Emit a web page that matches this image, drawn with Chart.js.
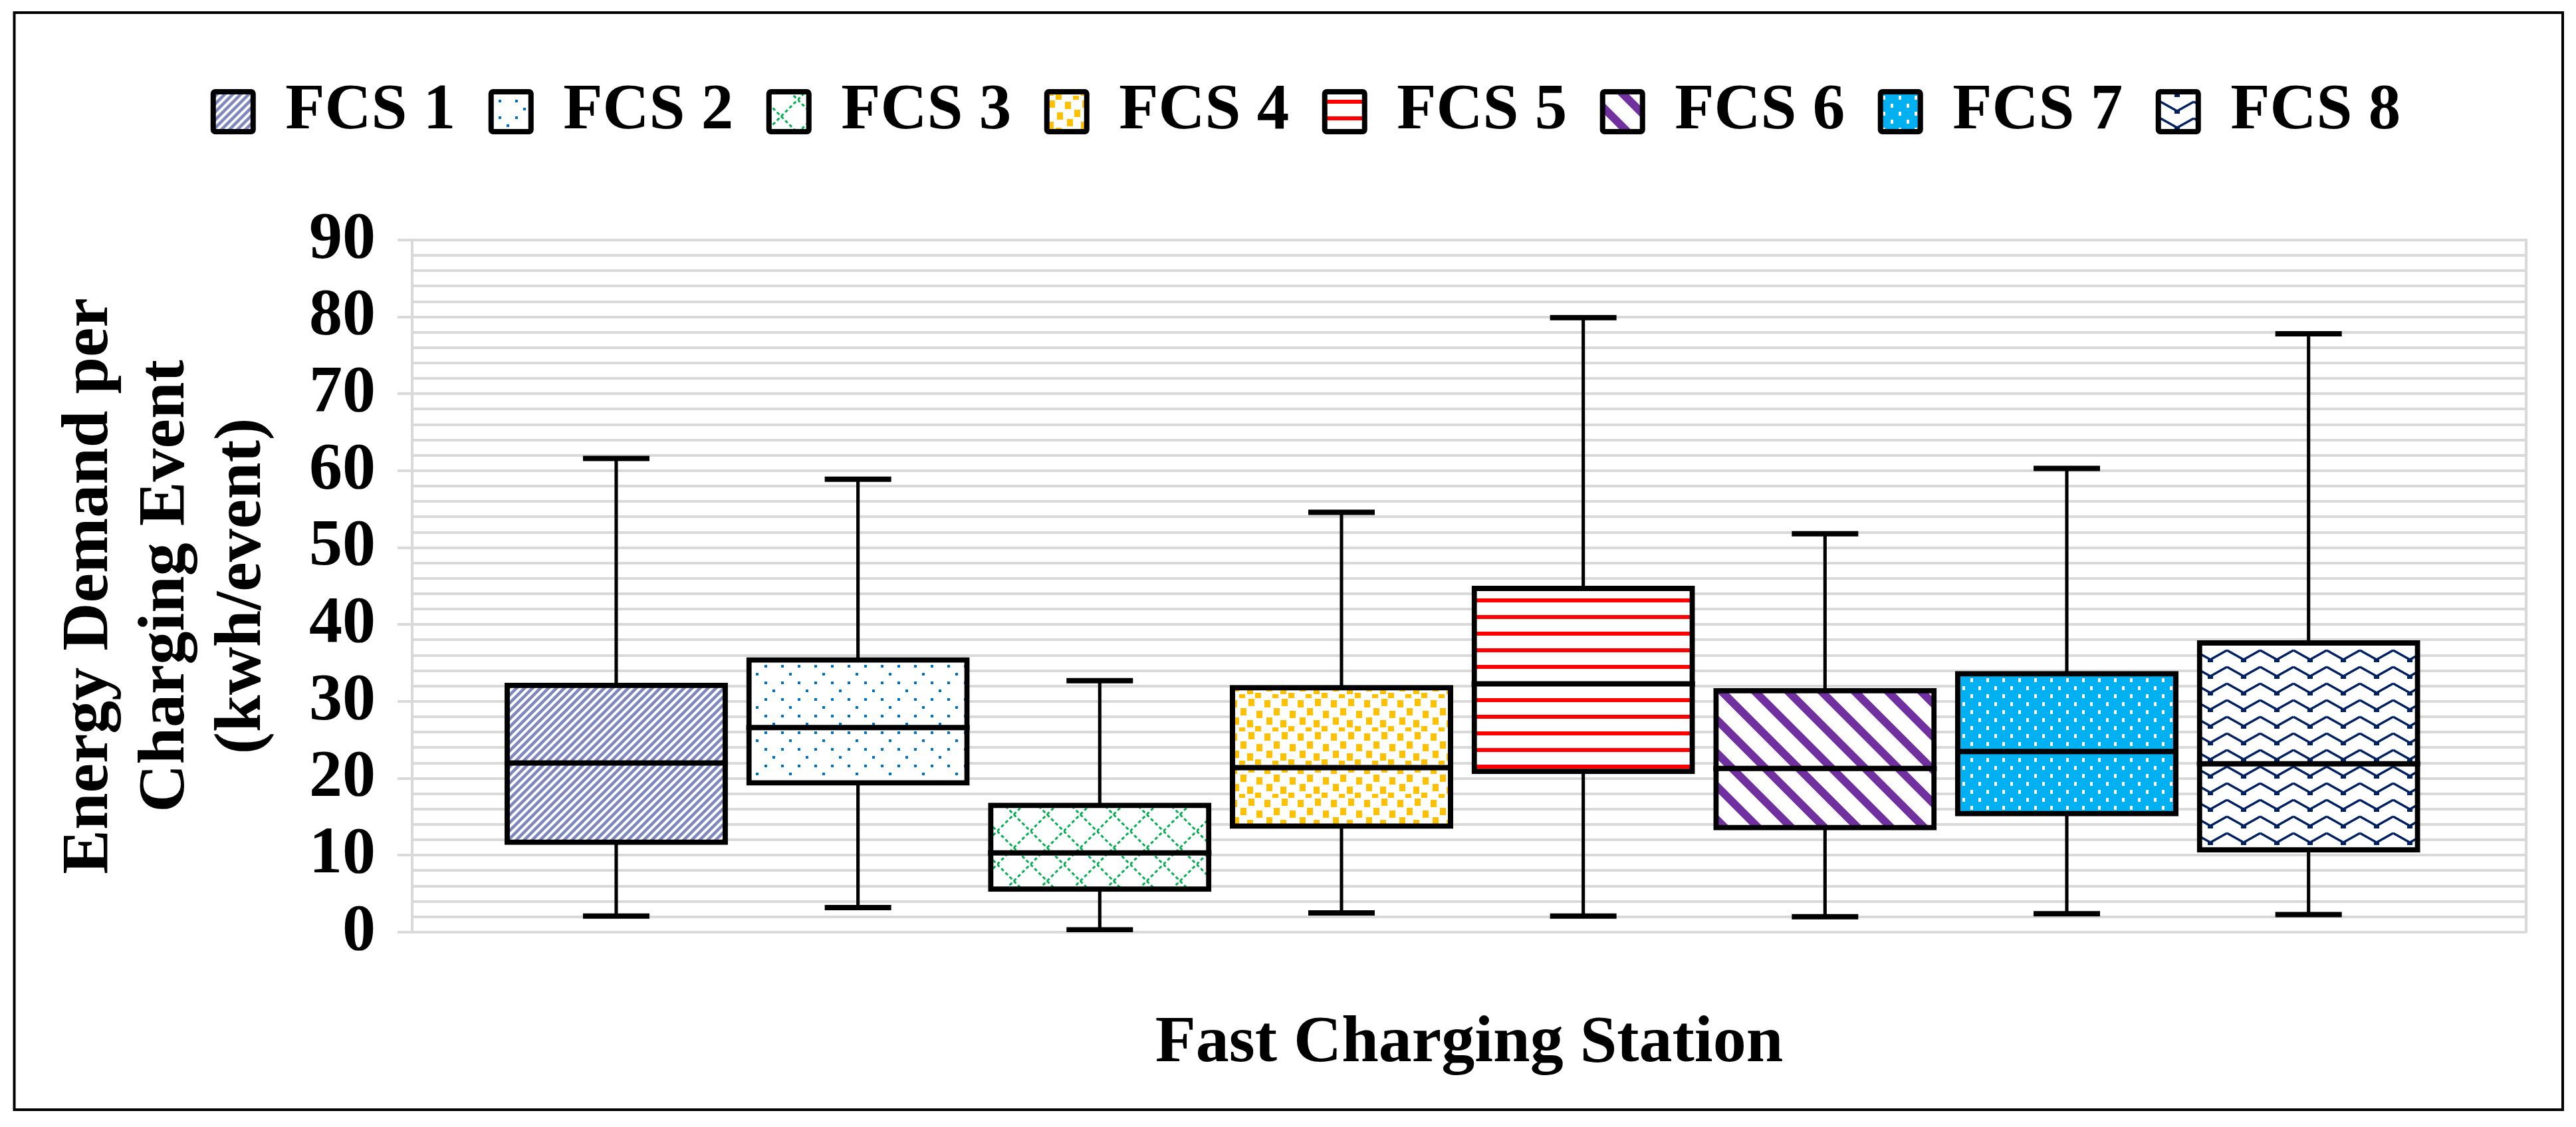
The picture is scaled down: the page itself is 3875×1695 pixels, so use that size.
<!DOCTYPE html>
<html lang="en">
<head>
<meta charset="UTF-8">
<title>Energy Demand per Charging Event</title>
<script src="https://cdn.jsdelivr.net/npm/chart.js@4.4.1/dist/chart.umd.min.js"></script>
<style>
  html, body { margin: 0; padding: 0; background: #fff; }
  canvas { display: block; }
</style>
</head>
<body>
<canvas id="myChart" width="3875" height="1695"></canvas>
<script>
// values (kwh/event)
const categories = ['FCS 1', 'FCS 2', 'FCS 3', 'FCS 4', 'FCS 5', 'FCS 6', 'FCS 7', 'FCS 8'];
const whiskerMin = [2.1, 3.2, 0.3, 2.5, 2.1, 2.0, 2.4, 2.3];
const q1Values = [11.7, 19.4, 5.6, 13.8, 20.9, 13.6, 15.4, 10.7];
const medianValues = [22.0, 26.6, 10.3, 21.4, 32.3, 21.3, 23.5, 21.9];
const q3Values = [32.1, 35.4, 16.5, 31.8, 44.7, 31.4, 33.6, 37.6];
const whiskerMax = [61.6, 58.9, 32.7, 54.6, 79.9, 51.8, 60.3, 77.8];
const yTickLabels = [0, 10, 20, 30, 40, 50, 60, 70, 80, 90];

const colors = ['#7f87c0', '#0070c0', '#00b050', '#ffc000', '#ff0000', '#7030a0', '#00b0f0', '#002060'];

Chart.defaults.font.family = "'Liberation Serif', 'Times New Roman', serif";
Chart.defaults.color = '#000';

const ctx = document.getElementById('myChart').getContext('2d');

// small repeating tiles for the hatch fills
function tile(w, h, bg, draw) {
  const c = document.createElement('canvas');
  c.width = w; c.height = h;
  const g = c.getContext('2d');
  g.fillStyle = bg;
  g.fillRect(0, 0, w, h);
  draw(g);
  return ctx.createPattern(c, 'repeat');
}

const patterns = [
  tile(12, 12, '#fff', g => {          // upward diagonal
    g.strokeStyle = colors[0]; g.lineWidth = 4.5;
    g.beginPath();
    g.moveTo(0, 12); g.lineTo(12, 0);
    g.moveTo(-6, 6); g.lineTo(6, -6);
    g.moveTo(6, 18); g.lineTo(18, 6);
    g.stroke();
  }),
  tile(50, 50, '#fff', g => {          // small dots
    g.fillStyle = colors[1];
    [[0, 0], [25, 0], [37, 12], [0, 25], [25, 25], [12, 37]].forEach(p => g.fillRect(p[0], p[1], 4, 4));
  }),
  tile(50, 50, '#fff', g => {          // dotted diamonds
    g.strokeStyle = colors[2]; g.lineWidth = 3;
    g.setLineDash([5, 3.84]);
    g.beginPath();
    g.moveTo(0, 0); g.lineTo(50, 50);
    g.moveTo(0, 50); g.lineTo(50, 0);
    g.stroke();
  }),
  tile(50, 50, '#fff', g => {          // confetti
    g.fillStyle = colors[3];
    [[2, 3], [28, 1], [16, 15], [40, 19], [5, 29], [26, 33], [38, 42], [14, 44]].forEach(p => g.fillRect(p[0], p[1], 9, 11));
  }),
  tile(25, 25, '#fff', g => {          // horizontal lines
    g.fillStyle = colors[4];
    g.fillRect(0, 0, 25, 6);
  }),
  tile(50, 50, '#fff', g => {          // wide downward diagonal
    g.strokeStyle = colors[5]; g.lineWidth = 12;
    g.beginPath();
    g.moveTo(0, 0); g.lineTo(50, 50);
    g.moveTo(25, -25); g.lineTo(75, 25);
    g.moveTo(-25, 25); g.lineTo(25, 75);
    g.stroke();
  }),
  tile(24, 24, colors[6], g => {       // white dashes on cyan
    g.fillStyle = '#fff';
    g.fillRect(0, 0, 4, 6);
    g.fillRect(12, 12, 4, 6);
  }),
  tile(50, 25, '#fff', g => {          // zigzag
    g.strokeStyle = colors[7]; g.lineWidth = 3.5;
    g.beginPath();
    g.moveTo(0, 3); g.lineTo(25, 17); g.lineTo(50, 3);
    g.stroke();
    g.fillStyle = colors[7];
    g.fillRect(21, 15, 8, 6);
  })
];

const boxData = categories.map((c, i) => ({x: i, y: [q1Values[i], q3Values[i]]}));
const whiskerData = categories.map((c, i) => ({x: i, y: [whiskerMin[i], whiskerMax[i]]}));
const capData = [];
categories.forEach((c, i) => {
  capData.push({x: i, y: whiskerMin[i]});
  capData.push({x: i, y: whiskerMax[i]});
});

// median line across each box
const medianLines = {
  id: 'medianLines',
  afterDatasetsDraw(chart) {
    const meta = chart.getDatasetMeta(1);
    const yScale = chart.scales.y;
    const c = chart.ctx;
    c.save();
    c.strokeStyle = '#000';
    c.lineWidth = 8;
    meta.data.forEach((bar, i) => {
      const py = yScale.getPixelForValue(medianValues[i]);
      const half = bar.width / 2 + 4;
      c.beginPath();
      c.moveTo(bar.x - half, py);
      c.lineTo(bar.x + half, py);
      c.stroke();
    });
    c.restore();
  }
};

// white page and thin black frame
const frame = {
  id: 'frame',
  beforeDraw(chart) {
    const c = chart.ctx;
    c.save();
    c.fillStyle = '#fff';
    c.fillRect(0, 0, chart.width, chart.height);
    c.restore();
  },
  afterDraw(chart) {
    const c = chart.ctx;
    c.save();
    c.strokeStyle = '#000';
    c.lineWidth = 4;
    c.strokeRect(21.5, 19, 3833.5, 1650);
    c.restore();
  }
};

// leave room between legend and plot
const legendGap = {
  id: 'legendGap',
  beforeInit(chart) {
    const fit = chart.legend.fit;
    chart.legend.fit = function () {
      fit.call(this);
      this.height = 295;
    };
  }
};

const myChart = new Chart(ctx, {
  type: 'bar',
  data: {
    datasets: [
      {
        label: 'whisker',
        data: whiskerData,
        backgroundColor: '#000',
        borderWidth: 0,
        inflateAmount: 0,
        grouped: false,
        barPercentage: 0.014,
        categoryPercentage: 1,
        order: 3
      },
      {
        label: 'box',
        data: boxData,
        backgroundColor: patterns,
        borderColor: '#000',
        borderWidth: 8,
        borderSkipped: false,
        inflateAmount: 4,
        grouped: false,
        barPercentage: 0.902,
        categoryPercentage: 1,
        order: 2
      },
      {
        type: 'scatter',
        label: 'cap',
        data: capData,
        pointStyle: 'line',
        pointRadius: 50,
        pointBorderWidth: 8,
        pointBorderColor: '#000',
        showLine: false,
        order: 1
      }
    ]
  },
  options: {
    responsive: false,
    devicePixelRatio: 1,
    animation: false,
    events: [],
    layout: { padding: { left: 62, right: 5, top: 66, bottom: 30 } },
    plugins: {
      tooltip: { enabled: false },
      legend: {
        position: 'top',
        onClick: null,
        labels: {
          font: { size: 97, weight: 'bold' },
          boxWidth: 60,
          boxHeight: 60,
          padding: 53.5,
          color: '#000',
          generateLabels: () => categories.map((c, i) => ({
            text: c,
            fillStyle: patterns[i],
            strokeStyle: '#000',
            lineWidth: 8,
            borderRadius: 3,
            hidden: false,
            index: i,
            fontColor: '#000'
          }))
        }
      }
    },
    scales: {
      x: {
        type: 'linear',
        offset: false,
        min: -0.844,
        max: 7.9,
        grid: { display: false, drawTicks: false, offset: false },
        border: { display: false },
        ticks: { display: false, stepSize: 1, includeBounds: false },
        title: {
          display: true,
          text: 'Fast Charging Station',
          color: '#000',
          font: { size: 100, weight: 'bold', lineHeight: 1.15 },
          padding: { top: 110, bottom: 37.5 }
        },
        afterFit: s => { s.height = 263; }
      },
      y: {
        min: 0,
        max: 90,
        grid: {
          color: '#d9d9d9',
          lineWidth: 4,
          tickLength: 22,
          tickWidth: 4,
          tickColor: c => (c.tick && c.tick.value % 10 === 0) ? '#d9d9d9' : 'rgba(0,0,0,0)'
        },
        border: { color: '#d9d9d9', width: 4 },
        ticks: {
          stepSize: 2,
          autoSkip: false,
          padding: 33,
          color: '#000',
          font: { size: 100, weight: 'bold' },
          callback: v => yTickLabels.includes(v) ? v : ''
        },
        title: {
          display: true,
          text: ['Energy Demand per', 'Charging Event', '(kwh/event)'],
          color: '#000',
          font: { size: 100, weight: 'bold', lineHeight: 1.15 },
          padding: { top: 15.5, bottom: 0 }
        },
        afterFit: s => { s.width = 558; }
      },
      y2: {
        position: 'right',
        min: 0,
        max: 90,
        grid: { display: false, drawTicks: false },
        ticks: { display: false },
        border: { display: true, color: '#d9d9d9', width: 4 },
        afterFit: s => { s.width = 70; }
      }
    }
  },
  plugins: [medianLines, frame, legendGap]
});
</script>
</body>
</html>
